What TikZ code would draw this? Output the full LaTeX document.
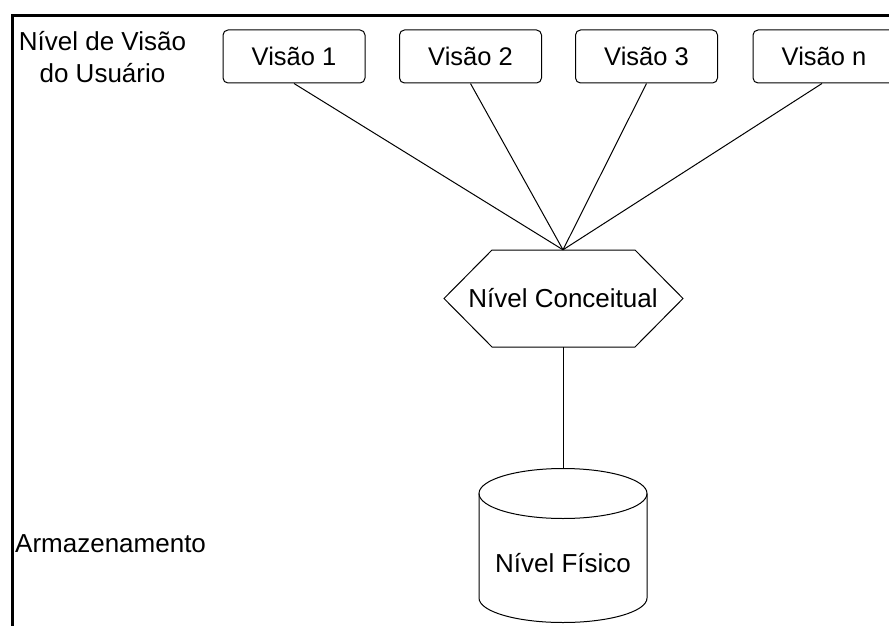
\documentclass[tikz,border=0pt]{standalone}
\usepackage{fontspec}
\setmainfont{Liberation Sans}
\begin{document}
\begin{tikzpicture}[x=1pt,y=-1pt,
  lbl/.style={font=\fontsize{26}{32}\selectfont, inner sep=0pt},
  viewbox/.style={draw, line width=1pt, rounded corners=5pt, minimum width=142pt, minimum height=53pt, inner sep=0pt, font=\fontsize{25.5}{30}\selectfont},
  link/.style={line width=1pt}]
\clip (0,0) rectangle (889,626);
\fill[white] (0,0) rectangle (889,626);
% frame
\draw[line width=2.6pt] (12.5,626) -- (12.5,15.5) -- (889,15.5);
% left labels
\node[lbl, align=center, anchor=base] (userlvl) at (102.5,82) {Nível de Visão\\do Usuário};
\node[lbl, anchor=base west] (storage) at (15,552) {Armazenamento};
% views
\node[viewbox] (v1) at (294,56.5) {Visão 1};
\node[viewbox] (v2) at (470.5,56.5) {Visão 2};
\node[viewbox] (v3) at (646.5,56.5) {Visão 3};
\node[viewbox] (vn) at (824,56.5) {Visão n};
% conceptual hexagon
\draw[link] (492,250) -- (635,250) -- (683,298.5) -- (635,347) -- (492,347) -- (444,298.5) -- cycle;
\node[lbl, minimum height=97pt, anchor=center] (conc) at (563,298.5) {Nível Conceitual};
% cylinder
\draw[link] (563,493.5) ellipse [x radius=84, y radius=25];
\draw[link] (479,493.5) -- (479,598) arc[start angle=180, end angle=0, x radius=84, y radius=24.5] -- (647,493.5);
\coordinate (cyltop) at (563,468.5);
\node[lbl, anchor=base] (fis) at (563,572) {Nível Físico};
% connectors
\draw[link] (v1.south) -- (conc.north);
\draw[link] (v2.south) -- (conc.north);
\draw[link] (v3.south) -- (conc.north);
\draw[link] (vn.south) ++(-2,0) -- (conc.north);
\draw[link] (conc.south) -- (cyltop);
\end{tikzpicture}
\end{document}
